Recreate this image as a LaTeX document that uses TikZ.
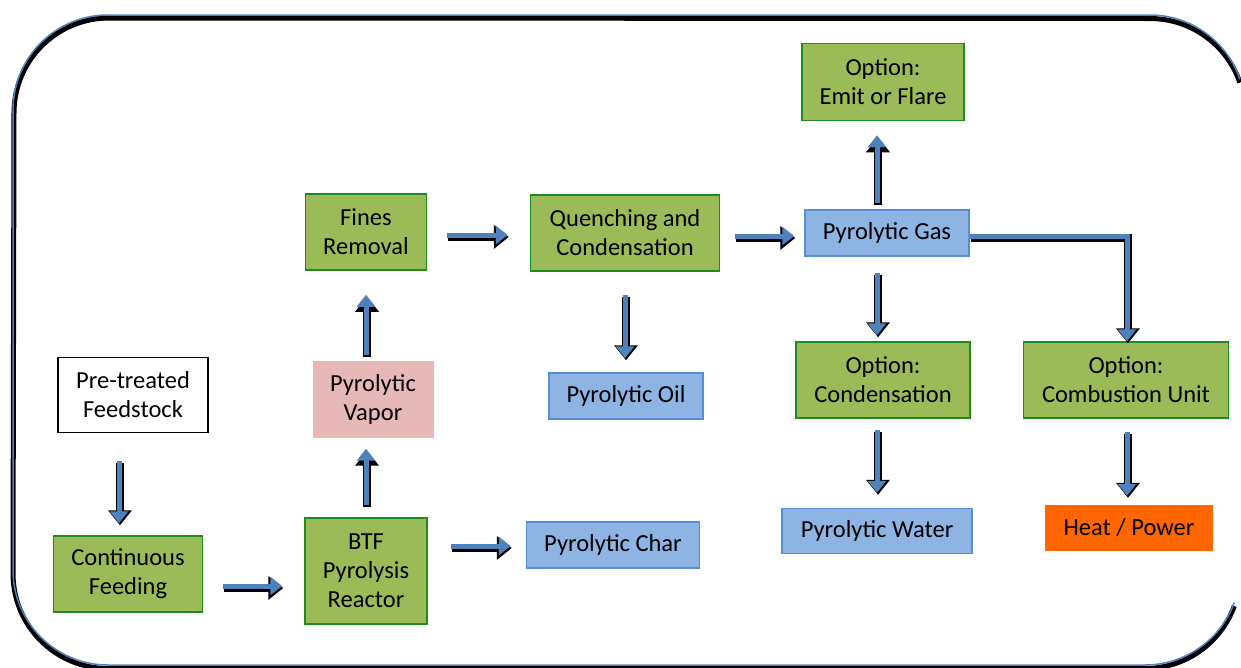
\documentclass[tikz,border=0pt]{standalone}
\usepackage{fontspec}
\setmainfont{Carlito}
\usetikzlibrary{arrows.meta,calc}
\definecolor{gfill}{RGB}{155,187,89}
\definecolor{gline}{RGB}{30,140,30}
\definecolor{bfill}{RGB}{142,180,227}
\definecolor{bline}{RGB}{85,142,213}
\definecolor{pfill}{RGB}{230,185,184}
\definecolor{ofill}{RGB}{255,102,0}
\definecolor{arrblue}{RGB}{79,129,189}
\tikzset{
  gbox/.style={draw=gline, fill=gfill, line width=1.5pt, align=center, inner sep=0pt},
  bbox/.style={draw=bline, fill=bfill, line width=1.5pt, align=center, inner sep=0pt},
  wbox/.style={draw=black, fill=white, line width=1.2pt, align=center, inner sep=0pt},
  pbox/.style={fill=pfill, align=center, inner sep=0pt},
  obox/.style={fill=ofill, align=center, inner sep=0pt},
  arrsh/.style={line width=8pt, black, -{Triangle[width=23pt,length=15pt]}, transform canvas={shift={(1,2)}}},
  arrfg/.style={line width=5pt, arrblue, -{Triangle[width=18pt,length=12pt]}},
  frsh/.style={line width=5pt, black},
  frfg/.style={line width=1.5pt, arrblue},
}
\newcommand\flowpath[1]{\draw[arrsh] #1; \draw[arrfg] #1;}
\begin{document}
\begin{tikzpicture}[x=1pt,y=-1pt, font=\fontsize{24.5}{29}\selectfont]
\useasboundingbox (0,0) rectangle (1241,667);
% outer frame (right side runs past the picture's edge)
\draw[frsh] (1145,668.5) -- (108,668.5) arc[start angle=-90, end angle=-180, radius=95pt] -- (14,113) arc[start angle=180, end angle=90, radius=95pt] -- (1150,18.5) arc[start angle=90, end angle=19, radius=95pt];
\draw[frsh] (1145,668.5) arc[start angle=-90, end angle=-20, radius=95pt];
\draw[frfg] (1145,665) -- (108,665) arc[start angle=-90, end angle=-180, radius=95pt] -- (13,110) arc[start angle=180, end angle=90, radius=95pt] -- (1150,15) arc[start angle=90, end angle=19, radius=95pt];
\draw[frfg] (1145,665) arc[start angle=-90, end angle=-20, radius=95pt];

% nodes
\node[wbox, minimum width=150pt, minimum height=75pt] (feed) at (133,395) {Pre-treated\\Feedstock};
\node[gbox, minimum width=149pt, minimum height=76pt] (cont) at (128,574) {Continuous\\Feeding};
\node[gbox, minimum width=122pt, minimum height=106pt] (btf) at (366,571) {BTF\\Pyrolysis\\Reactor};
\node[pbox, minimum width=121pt, minimum height=77pt] (vapor) at (373,399) {Pyrolytic\\Vapor};
\node[gbox, minimum width=121pt, minimum height=76pt] (fines) at (366,232) {Fines\\Removal};
\node[gbox, minimum width=189pt, minimum height=76pt] (quench) at (625,233) {Quenching and\\Condensation};
\node[bbox, minimum width=154pt, minimum height=46pt] (oil) at (626,396) {Pyrolytic Oil};
\node[bbox, minimum width=173pt, minimum height=46pt] (char) at (613,545) {Pyrolytic Char};
\node[bbox, minimum width=164pt, minimum height=46pt] (gas) at (887,233) {Pyrolytic Gas};
\node[gbox, minimum width=162pt, minimum height=77pt] (emit) at (883,82) {Option:\\Emit or Flare};
\node[gbox, minimum width=174pt, minimum height=76pt] (cond) at (883,380) {Option:\\Condensation};
\node[gbox, minimum width=205pt, minimum height=76pt] (comb) at (1126,380) {Option:\\Combustion Unit};
\node[bbox, minimum width=190pt, minimum height=45pt] (water) at (877,531) {Pyrolytic Water};
\node[obox, minimum width=168pt, minimum height=46pt] (heat) at (1129,528) {Heat / Power};

% connectors
\flowpath{($(feed.south)+(-14,28)$) -- ($(cont.north)+(-9,-12)$)}
\flowpath{($(cont.east)+(20,12)$) -- ($(btf.west)+(-22,15)$)}
\flowpath{($(btf.north)+(0,-12)$) -- ($(vapor.south)+(-7,11)$)}
\flowpath{($(vapor.north)+(-7,-5)$) -- ($(fines.south)+(0,24)$)}
\flowpath{($(btf.east)+(23,-25)$) -- ($(char.west)+(-15,1)$)}
\flowpath{($(fines.east)+(20,3)$) -- ($(quench.west)+(-22,2)$)}
\flowpath{($(quench.south)+(0,23)$) -- ($(oil.north)+(-1,-14)$)}
\flowpath{($(quench.east)+(15,3)$) -- ($(gas.west)+(-10,3)$)}
\flowpath{($(gas.north)+(-10,-6)$) -- ($(emit.south)+(-6,14)$)}
\flowpath{($(gas.south)+(-10,16)$) -- ($(cond.north)+(-6,-6)$)}
\flowpath{($(gas.east)+(0,3)$) -| ($(comb.north)+(1,0)$)}
\flowpath{($(cond.south)+(-6,11)$) -- ($(water.north)+(0,-15)$)}
\flowpath{($(comb.south)+(1,13)$) -- ($(heat.north)+(-2,-9)$)}
\end{tikzpicture}
\end{document}
